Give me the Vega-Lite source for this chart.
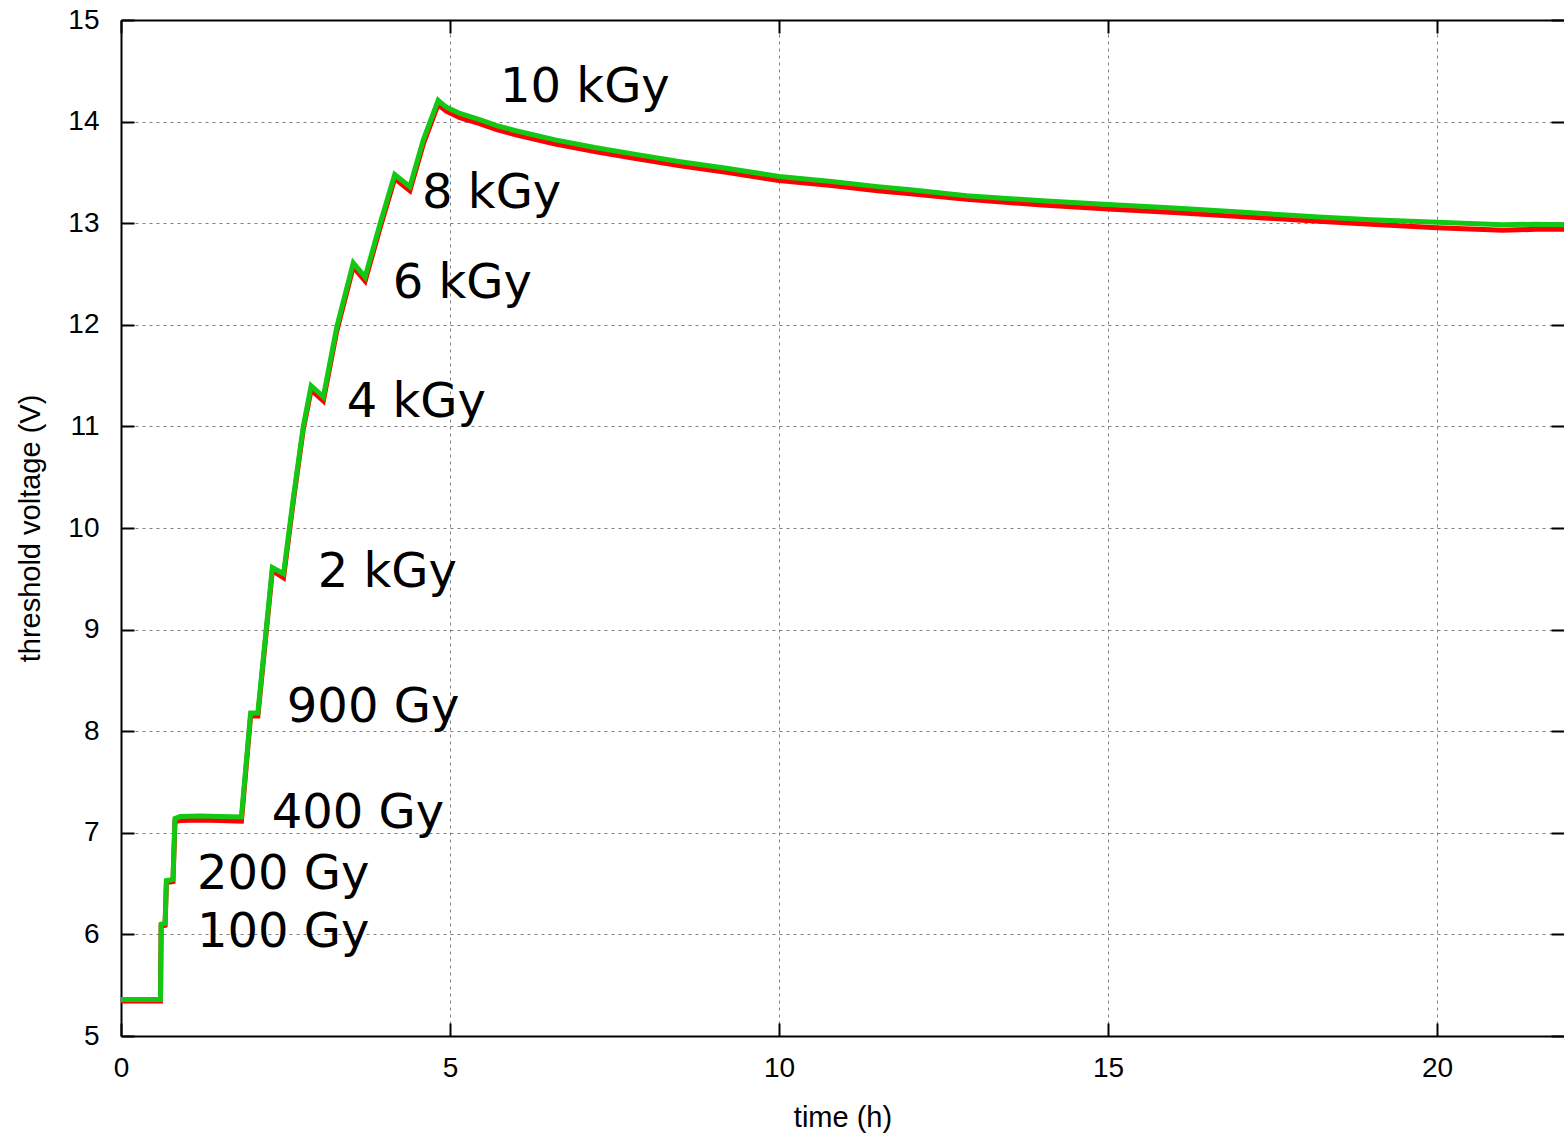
{
  "$schema": "https://vega.github.io/schema/vega-lite/v6.json",
  "width": 1443,
  "height": 1016,
  "autosize": {"type": "none"},
  "padding": {"left": 121, "top": 20, "right": 0, "bottom": 100},
  "background": "white",
  "config": {
    "view": {"stroke": null},
    "axis": {
      "labelFont": "Liberation Sans",
      "titleFont": "Liberation Sans",
      "labelFontSize": 28,
      "titleFontSize": 29,
      "labelColor": "black",
      "titleColor": "black",
      "titleFontWeight": "normal",
      "domainColor": "black",
      "domainWidth": 2,
      "tickColor": "black",
      "tickWidth": 2,
      "gridColor": "#808080",
      "gridDash": [3, 4],
      "gridWidth": 1,
      "labelFlush": false
    }
  },
  "datasets": {
    "series": [
      {"s": "B", "t": 0, "v": 5.345}, {"s": "B", "t": 0.6, "v": 5.345}, {"s": "B", "t": 0.61, "v": 6.08}, {"s": "B", "t": 0.67, "v": 6.09},
      {"s": "B", "t": 0.69, "v": 6.51}, {"s": "B", "t": 0.79, "v": 6.52}, {"s": "B", "t": 0.82, "v": 7.11}, {"s": "B", "t": 0.9, "v": 7.12},
      {"s": "B", "t": 1.2, "v": 7.125}, {"s": "B", "t": 1.5, "v": 7.12}, {"s": "B", "t": 1.83, "v": 7.115}, {"s": "B", "t": 1.97, "v": 8.15},
      {"s": "B", "t": 2.08, "v": 8.15}, {"s": "B", "t": 2.3, "v": 9.58}, {"s": "B", "t": 2.47, "v": 9.51}, {"s": "B", "t": 2.62, "v": 10.27},
      {"s": "B", "t": 2.77, "v": 10.97}, {"s": "B", "t": 2.89, "v": 11.36}, {"s": "B", "t": 3.075, "v": 11.25}, {"s": "B", "t": 3.28, "v": 11.94},
      {"s": "B", "t": 3.53, "v": 12.57}, {"s": "B", "t": 3.71, "v": 12.43}, {"s": "B", "t": 3.94, "v": 12.96}, {"s": "B", "t": 4.16, "v": 13.44},
      {"s": "B", "t": 4.39, "v": 13.32}, {"s": "B", "t": 4.595, "v": 13.78}, {"s": "B", "t": 4.82, "v": 14.17}, {"s": "B", "t": 4.87, "v": 14.14},
      {"s": "B", "t": 4.95, "v": 14.1}, {"s": "B", "t": 5.15, "v": 14.04}, {"s": "B", "t": 5.45, "v": 13.98}, {"s": "B", "t": 5.71, "v": 13.92},
      {"s": "B", "t": 6.0, "v": 13.87}, {"s": "B", "t": 6.6, "v": 13.78}, {"s": "B", "t": 7.2, "v": 13.705}, {"s": "B", "t": 7.8, "v": 13.64},
      {"s": "B", "t": 8.5, "v": 13.565}, {"s": "B", "t": 9.2, "v": 13.5}, {"s": "B", "t": 10.0, "v": 13.42}, {"s": "B", "t": 10.8, "v": 13.37},
      {"s": "B", "t": 11.5, "v": 13.32}, {"s": "B", "t": 12.0, "v": 13.29}, {"s": "B", "t": 12.85, "v": 13.235}, {"s": "B", "t": 14.0, "v": 13.18},
      {"s": "B", "t": 15.0, "v": 13.14}, {"s": "B", "t": 16.0, "v": 13.105}, {"s": "B", "t": 17.0, "v": 13.065}, {"s": "B", "t": 18.2, "v": 13.02},
      {"s": "B", "t": 19.0, "v": 12.99}, {"s": "B", "t": 20.0, "v": 12.955}, {"s": "B", "t": 20.6, "v": 12.94}, {"s": "B", "t": 21.0, "v": 12.93},
      {"s": "B", "t": 21.5, "v": 12.94}, {"s": "B", "t": 21.93, "v": 12.94},
      {"s": "A", "t": 0, "v": 5.36}, {"s": "A", "t": 0.6, "v": 5.36}, {"s": "A", "t": 0.61, "v": 6.1}, {"s": "A", "t": 0.67, "v": 6.11},
      {"s": "A", "t": 0.69, "v": 6.53}, {"s": "A", "t": 0.79, "v": 6.54}, {"s": "A", "t": 0.82, "v": 7.14}, {"s": "A", "t": 0.9, "v": 7.16},
      {"s": "A", "t": 1.2, "v": 7.165}, {"s": "A", "t": 1.5, "v": 7.16}, {"s": "A", "t": 1.83, "v": 7.155}, {"s": "A", "t": 1.97, "v": 8.18},
      {"s": "A", "t": 2.08, "v": 8.18}, {"s": "A", "t": 2.3, "v": 9.61}, {"s": "A", "t": 2.47, "v": 9.55}, {"s": "A", "t": 2.62, "v": 10.3},
      {"s": "A", "t": 2.77, "v": 11.0}, {"s": "A", "t": 2.89, "v": 11.4}, {"s": "A", "t": 3.075, "v": 11.29}, {"s": "A", "t": 3.28, "v": 11.98},
      {"s": "A", "t": 3.53, "v": 12.61}, {"s": "A", "t": 3.71, "v": 12.47}, {"s": "A", "t": 3.94, "v": 13.0}, {"s": "A", "t": 4.16, "v": 13.48},
      {"s": "A", "t": 4.39, "v": 13.36}, {"s": "A", "t": 4.595, "v": 13.82}, {"s": "A", "t": 4.82, "v": 14.21}, {"s": "A", "t": 4.87, "v": 14.18},
      {"s": "A", "t": 4.95, "v": 14.14}, {"s": "A", "t": 5.15, "v": 14.08}, {"s": "A", "t": 5.45, "v": 14.02}, {"s": "A", "t": 5.71, "v": 13.96},
      {"s": "A", "t": 6.0, "v": 13.91}, {"s": "A", "t": 6.6, "v": 13.82}, {"s": "A", "t": 7.2, "v": 13.745}, {"s": "A", "t": 7.8, "v": 13.68},
      {"s": "A", "t": 8.5, "v": 13.605}, {"s": "A", "t": 9.2, "v": 13.54}, {"s": "A", "t": 10.0, "v": 13.46}, {"s": "A", "t": 10.8, "v": 13.41},
      {"s": "A", "t": 11.5, "v": 13.36}, {"s": "A", "t": 12.0, "v": 13.33}, {"s": "A", "t": 12.85, "v": 13.27}, {"s": "A", "t": 14.0, "v": 13.22},
      {"s": "A", "t": 15.0, "v": 13.185}, {"s": "A", "t": 16.0, "v": 13.15}, {"s": "A", "t": 17.0, "v": 13.11}, {"s": "A", "t": 18.2, "v": 13.06},
      {"s": "A", "t": 19.0, "v": 13.035}, {"s": "A", "t": 20.0, "v": 13.01}, {"s": "A", "t": 20.6, "v": 12.995}, {"s": "A", "t": 21.0, "v": 12.985},
      {"s": "A", "t": 21.5, "v": 12.99}, {"s": "A", "t": 21.93, "v": 12.985}
    ],
    "labels": [
      {"t": 5.76, "v": 14.19, "label": "10 kGy"},
      {"t": 4.575, "v": 13.15, "label": "8 kGy"},
      {"t": 4.13, "v": 12.26, "label": "6 kGy"},
      {"t": 3.43, "v": 11.09, "label": "4 kGy"},
      {"t": 2.99, "v": 9.42, "label": "2 kGy"},
      {"t": 2.52, "v": 8.09, "label": "900 Gy"},
      {"t": 2.29, "v": 7.05, "label": "400 Gy"},
      {"t": 1.155, "v": 6.447, "label": "200 Gy"},
      {"t": 1.155, "v": 5.88, "label": "100 Gy"}
    ]
  },
  "layer": [
    {
      "data": {"name": "series"},
      "transform": [{"filter": "datum.s === 'B'"}],
      "mark": {"type": "line", "color": "#ff0000", "strokeWidth": 5, "clip": true},
      "encoding": {
        "x": {"field": "t", "type": "quantitative",
          "scale": {"domain": [0, 21.93], "nice": false, "zero": false},
          "axis": {"orient": "bottom", "values": [0, 5, 10, 15, 20], "grid": true, "tickSize": -13, "labelPadding": 31,
            "title": "time (h)", "titleY": 81, "titleBaseline": "middle"}},
        "y": {"field": "v", "type": "quantitative",
          "scale": {"domain": [5, 15], "nice": false, "zero": false},
          "axis": {"orient": "left", "values": [5, 6, 7, 8, 9, 10, 11, 12, 13, 14, 15], "grid": true, "tickSize": -13, "labelPadding": 35,
            "title": "threshold voltage (V)", "titleX": -91, "titleY": 508, "titleAngle": -90, "titleBaseline": "middle", "titleAlign": "center"}}
      }
    },
    {
      "data": {"name": "series"},
      "transform": [{"filter": "datum.s === 'A'"}],
      "mark": {"type": "line", "color": "#12c812", "strokeWidth": 5, "clip": true},
      "encoding": {
        "x": {"field": "t", "type": "quantitative",
          "axis": {"orient": "top", "values": [0, 5, 10, 15, 20], "grid": false, "labels": false, "tickSize": -13, "title": null}},
        "y": {"field": "v", "type": "quantitative",
          "axis": {"orient": "right", "values": [5, 6, 7, 8, 9, 10, 11, 12, 13, 14, 15], "grid": false, "labels": false, "domain": false, "tickSize": -13, "title": null}}
      }
    },
    {
      "data": {"name": "labels"},
      "mark": {"type": "text", "font": "DejaVu Sans", "fontSize": 48, "align": "left", "baseline": "alphabetic", "color": "black"},
      "encoding": {
        "x": {"field": "t", "type": "quantitative", "axis": null},
        "y": {"field": "v", "type": "quantitative", "axis": null},
        "text": {"field": "label"}
      }
    }
  ],
  "resolve": {"axis": {"x": "independent", "y": "independent"}}
}
